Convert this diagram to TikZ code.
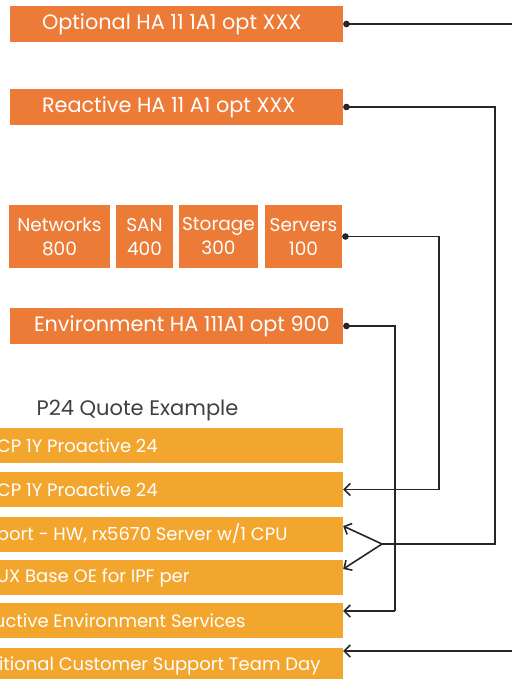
\documentclass[tikz,border=0pt]{standalone}
\usepackage{fontspec}
\setmainfont{Poppins}
\usepackage{xcolor}
\usetikzlibrary{positioning,calc,arrows.meta}
\definecolor{hporange}{HTML}{EC7B37}
\definecolor{hpyellow}{HTML}{F3A62E}
\definecolor{hpgray}{HTML}{404040}
\definecolor{hpline}{HTML}{262626}
\tikzset{
  optbox/.style={fill=hporange, text=white, inner sep=0pt, minimum height=36pt, font=\fontsize{20.8}{24}\selectfont},
  hwbox/.style={optbox, minimum height=63pt, align=center, font=\fontsize{18.5}{24}\selectfont},
  quotebox/.style={fill=hpyellow, text=white, inner sep=0pt, minimum width=363pt, minimum height=35pt, font=\fontsize{18}{22}\selectfont},
  dotline/.style={draw=hpline, line width=1.6pt, {Circle[length=6.5pt]}-},
  arrowline/.style={draw=hpline, line width=1.6pt, -{Straight Barb[length=6pt,width=12pt]}},
}
\begin{document}
\begin{tikzpicture}[x=1pt, y=-1pt]
    \useasboundingbox (0,0) rectangle (512,679);
    \clip (0,0) rectangle (512,679);

    % Option boxes
    \node[optbox, minimum width=333pt] (optBox) at (176.5,24) {\makebox[269pt][l]{Optional HA 11 1A1 opt XXX}};
    \node[optbox, minimum width=333pt] (reacBox) at (176.5,107) {\makebox[269pt][l]{Reactive HA 11 A1 opt XXX}};

    % Hardware boxes
    \node[hwbox, minimum width=101pt] (netBox) at (59.5,236.5) {Networks\\800};
    \node[hwbox, minimum width=57pt] (sanBox) at (144.5,236.5) {SAN\\400};
    \node[hwbox, minimum width=79pt] (stoBox) at (218.5,236.5) {Storage\\300};
    \node[hwbox, minimum width=77pt] (srvBox) at (303.5,236.5) {Servers\\100};

    \node[optbox, minimum width=333pt] (envBox) at (176.5,326) {\makebox[285pt][l]{Environment HA 111A1 opt 900}};

    % Quote list (left part cut by the page edge)
    \node[text=hpgray, font=\fontsize{21}{24}\selectfont] (quoteTitle) at (137.5,410) {P24 Quote Example};
    \node[quotebox] (qOne) at (161.5,445.5) {\makebox[329pt][l]{CP 1Y Proactive 24}};
    \node[quotebox] (qTwo) at (161.5,489.5) {\makebox[329pt][l]{CP 1Y Proactive 24}};
    \node[quotebox] (qSupport) at (161.5,534) {\makebox[329pt][l]{port - HW, rx5670 Server w/1 CPU}};
    \node[quotebox] (qOE) at (161.5,577.5) {\makebox[329pt][l]{UX Base OE for IPF per}};
    \node[quotebox] (qEnv) at (161.5,620.5) {\makebox[335pt][l]{uctive Environment Services}};
    \node[quotebox] (qAdd) at (161.5,665.5) {\makebox[325pt][l]{itional Customer Support Team Day}};

    % Connectors
    \coordinate (edgeTop) at (512,24);
    \coordinate (edgeBot) at (512,651);
    \coordinate (reacTurn) at (495,544);
    \coordinate (split) at (382,544);
    \coordinate (srvDrop) at (439,489.5);
    \coordinate (envDrop) at (395,611);

    \draw[dotline] (optBox.east) -- (edgeTop);
    \draw[dotline] (reacBox.east) -| (reacTurn) -- (split);
    \draw[arrowline] (split) -- ([yshift=8pt]qSupport.east);
    \draw[arrowline] (split) -- ([yshift=8.5pt]qOE.east);
    \draw[dotline] (srvBox.east) -| (srvDrop);
    \draw[arrowline] (srvDrop) -- (qTwo.east);
    \draw[dotline] (envBox.east) -| (envDrop);
    \draw[arrowline] (envDrop) -- ([yshift=9.5pt]qEnv.east);
    \draw[arrowline] (edgeBot) -- ([yshift=14.5pt]qAdd.east);
\end{tikzpicture}
\end{document}
